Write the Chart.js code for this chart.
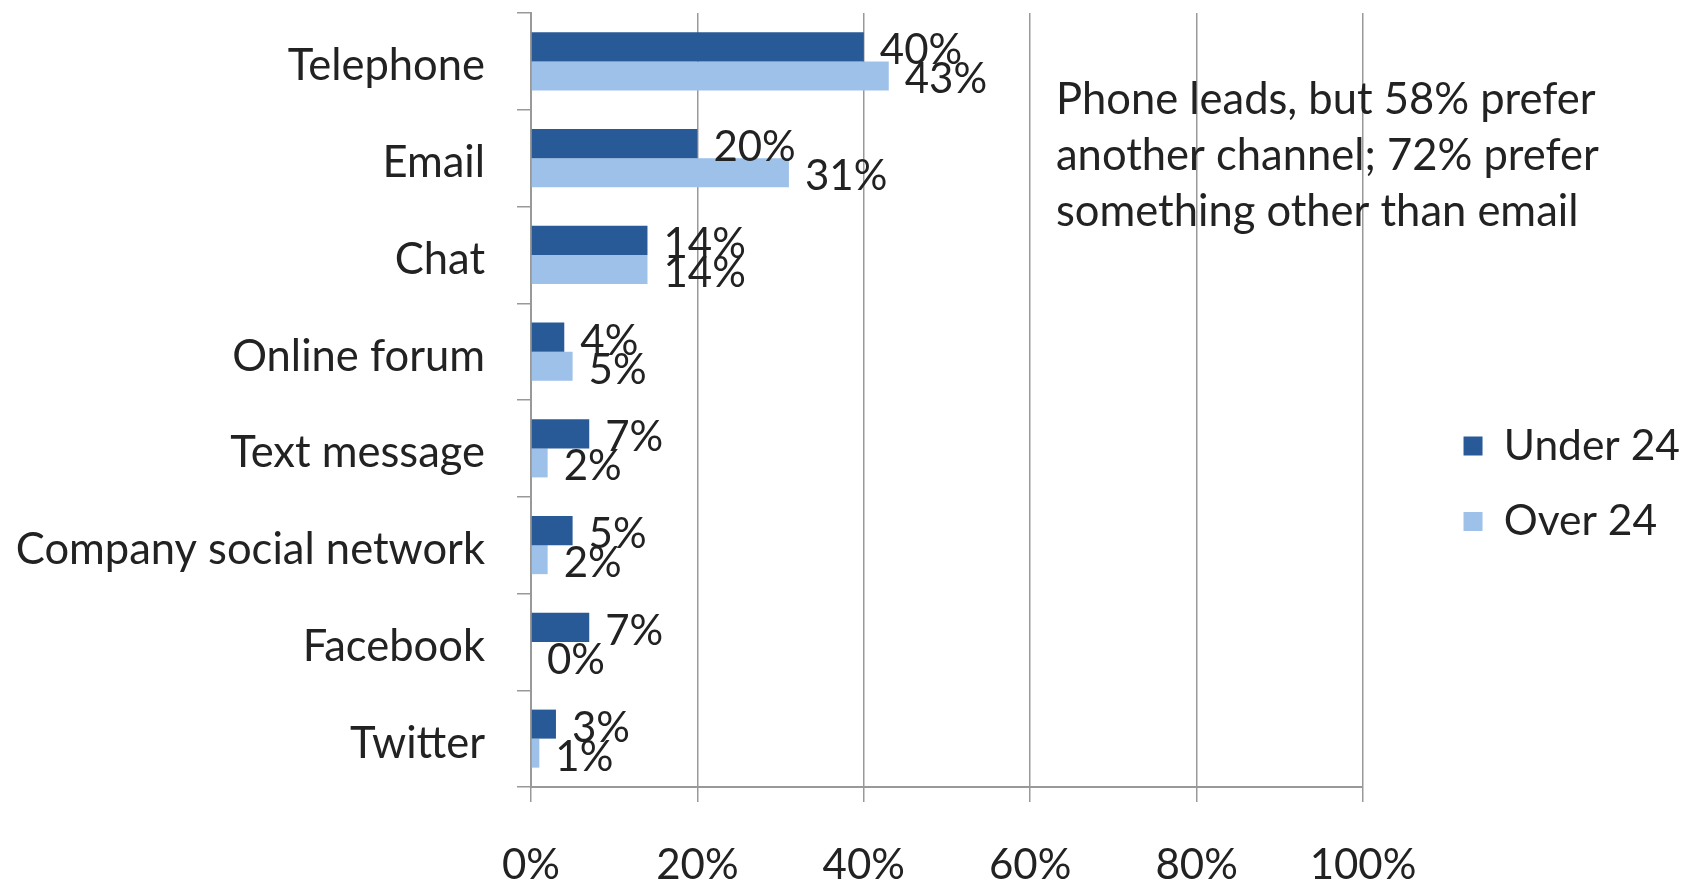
<!DOCTYPE html>
<html>
<head>
<meta charset="utf-8">
<script src="https://cdn.jsdelivr.net/npm/chart.js@4/dist/chart.umd.min.js"></script>
<style>
  html, body { margin: 0; padding: 0; background: #fff; }
  #wrap { width: 1690px; height: 885px; }
</style>
</head>
<body>
<div id="wrap"><canvas id="prefChart" width="1690" height="885"></canvas></div>
<script>
const channels = ['Telephone', 'Email', 'Chat', 'Online forum', 'Text message', 'Company social network', 'Facebook', 'Twitter'];
const under24 = [40, 20, 14, 4, 7, 5, 7, 3];
const over24 = [43, 31, 14, 5, 2, 2, 0, 1];
const xTicks = [0, 20, 40, 60, 80, 100];
const note = ['Phone leads, but 58% prefer', 'another channel; 72% prefer', 'something other than email'];

const fontFamily = "Lato, 'Open Sans', sans-serif";
const textColor = '#222';
const gridColor = '#999';

// value labels at the end of each bar
const barLabels = {
    id: 'barLabels',
    afterDatasetsDraw(chart) {
        const ctx = chart.ctx;
        ctx.save();
        ctx.font = '42px ' + fontFamily;
        ctx.fillStyle = textColor;
        ctx.textAlign = 'left';
        ctx.textBaseline = 'middle';
        chart.data.datasets.forEach((ds, i) => {
            chart.getDatasetMeta(i).data.forEach((bar, j) => {
                ctx.fillText(ds.data[j] + '%', bar.x + 16, bar.y + 4);
            });
        });
        ctx.restore();
    }
};

// text note in the upper right of the plot
const noteText = {
    id: 'noteText',
    afterDraw(chart) {
        const ctx = chart.ctx;
        ctx.save();
        ctx.font = '43.5px ' + fontFamily;
        ctx.fillStyle = textColor;
        ctx.textBaseline = 'middle';
        note.forEach((line, i) => ctx.fillText(line, 1056, 100 + i * 56));
        ctx.restore();
    }
};

new Chart(document.getElementById('prefChart'), {
    type: 'bar',
    data: {
        labels: channels,
        datasets: [{
            label: 'Under 24',
            data: under24,
            backgroundColor: '#285a97'
        }, {
            label: 'Over 24',
            data: over24,
            backgroundColor: '#9dc1e9'
        }]
    },
    options: {
        indexAxis: 'y',
        responsive: false,
        animation: false,
        categoryPercentage: 0.6,
        barPercentage: 1.0,
        layout: { padding: { top: 13, left: 0, right: 0, bottom: 0 } },
        plugins: {
            legend: {
                position: 'right',
                title: { display: true, text: '', padding: 0, font: { size: 58 } },
                labels: {
                    boxWidth: 19,
                    boxHeight: 19,
                    padding: 33,
                    color: textColor,
                    font: { family: fontFamily, size: 42.5 }
                }
            },
            tooltip: { enabled: false }
        },
        scales: {
            x: {
                min: 0,
                max: 100,
                afterBuildTicks: s => { s.ticks = xTicks.map(v => ({ value: v })); },
                afterFit: s => { s.height = 98; },
                grid: { color: gridColor, lineWidth: 1.5, tickLength: 15 },
                border: { color: gridColor, width: 2 },
                ticks: {
                    padding: 38,
                    color: textColor,
                    font: { family: fontFamily, size: 42 },
                    callback: v => v + '%'
                }
            },
            y: {
                afterFit: s => { s.width = 531; s.paddingTop = 0; s.paddingBottom = 0; },
                grid: { drawOnChartArea: false, color: gridColor, tickLength: 14, lineWidth: 1.5 },
                border: { color: gridColor, width: 2 },
                ticks: {
                    padding: 32,
                    labelOffset: 5,
                    color: textColor,
                    font: { family: fontFamily, size: 43.5 }
                }
            },
            gap: {
                type: 'linear',
                position: 'right',
                grid: { display: false },
                border: { display: false },
                ticks: { display: false },
                afterFit: s => { s.width = Math.max(0, 1690 - s.chart.legend.width - 1363); }
            }
        }
    },
    plugins: [barLabels, noteText]
});
</script>
</body>
</html>
